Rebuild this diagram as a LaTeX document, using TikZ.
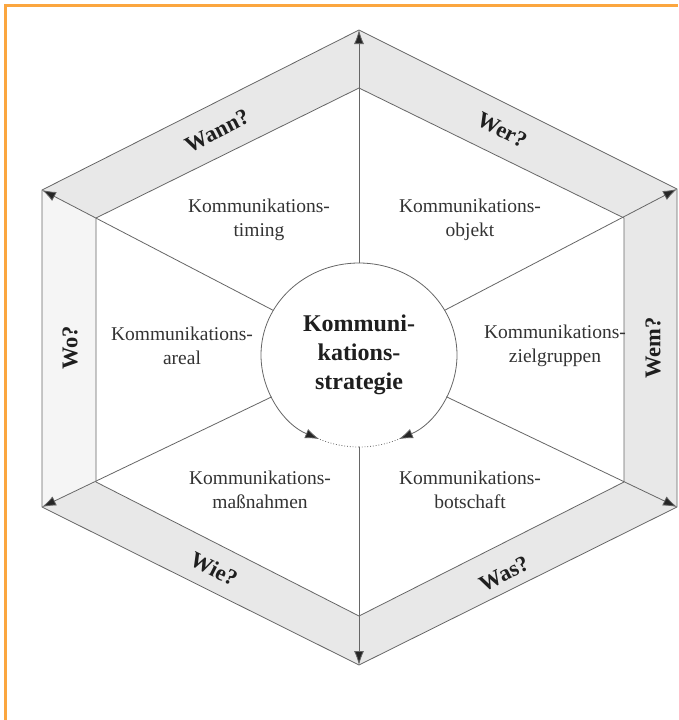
\documentclass[tikz,border=0pt]{standalone}
\usepackage{fontspec}
\setmainfont{Liberation Serif}
\usetikzlibrary{arrows.meta}
\usetikzlibrary{shapes.geometric}
\definecolor{rahmen}{HTML}{FBA63F}

\begin{document}
\begin{tikzpicture}[x=1pt,y=-1pt,
  linie/.style={draw=black!60,line width=0.8pt},
  speiche/.style={linie,-{Latex[length=14pt,width=10pt,fill=black!85]}},
  kreispfeil/.style={linie,-{Latex[length=14pt,width=10pt,fill=black!85]}},
  feld/.style={text=black!80,align=center,font=\fontsize{19.5}{24}\selectfont},
  frage/.style={text=black!88,font=\bfseries\fontsize{22.5}{26}\selectfont}]
\useasboundingbox (0,0) rectangle (678,720);
\draw[rahmen,line width=3pt] (5.5,720) -- (5.5,5.5) -- (678,5.5);

\coordinate (oT) at (359,30);
\coordinate (oUR) at (677,189);
\coordinate (oLR) at (677,507);
\coordinate (oB) at (359,665);
\coordinate (oLL) at (42,507);
\coordinate (oUL) at (42,190);
\coordinate (iT) at (359,88);
\coordinate (iUR) at (624,218);
\coordinate (iLR) at (624,482);
\coordinate (iB) at (359,616);
\coordinate (iLL) at (96,482);
\coordinate (iUL) at (96,218);

\fill[black!9] (oT) -- (oUR) -- (oLR) -- (oB) -- (oLL) -- (oUL) -- cycle;
\fill[white] (iT) -- (iUR) -- (iLR) -- (iB) -- (iLL) -- (iUL) -- cycle;
\fill[black!4] (oUL) -- (iUL) -- (iLL) -- (oLL) -- cycle;
\draw[linie] (oT) -- (oUR) -- (oLR) -- (oB) -- (oLL) -- (oUL) -- cycle;
\draw[linie] (iT) -- (iUR) -- (iLR) -- (iB) -- (iLL) -- (iUL) -- cycle;

\node[ellipse,minimum width=196pt,minimum height=184pt,inner sep=0pt,outer sep=0pt,
  align=center,text=black!88,font=\bfseries\fontsize{24}{29}\selectfont]
  (strat) at (359,355) {Kommuni-\\kations-\\strategie};
\draw[kreispfeil] (strat.north) arc[start angle=90,end angle=246,x radius=98pt,y radius=92pt];
\draw[kreispfeil] (strat.north) arc[start angle=90,end angle=-66,x radius=98pt,y radius=92pt];
\draw[linie,dotted] (strat.south) arc[start angle=270,end angle=246,x radius=98pt,y radius=92pt];
\draw[linie,dotted] (strat.south) arc[start angle=270,end angle=294,x radius=98pt,y radius=92pt];
\foreach \e in {oT,oUR,oLR,oB,oLL,oUL}
  \draw[speiche] (strat) -- (\e);

\node[feld] (timing) at (259,220) {Kommunikations-\\timing};
\node[feld] (objekt) at (470,220) {Kommunikations-\\objekt};
\node[feld] (areal) at (182,346) {Kommunikations-\\areal};
\node[feld] (ziel) at (555,346) {Kommunikations-\\zielgruppen};
\node[feld] (massn) at (260,490) {Kommunikations-\\maßnahmen};
\node[feld] (botsch) at (470,490) {Kommunikations-\\botschaft};

\node[frage,rotate=27] (wann) at (217,131) {Wann?};
\node[frage,rotate=-27] (wer) at (502,130) {Wer?};
\node[frage,rotate=90] (wem) at (653,348) {Wem?};
\node[frage,rotate=90] (wo) at (70,348) {Wo?};
\node[frage,rotate=-27] (wie) at (214,569) {Wie?};
\node[frage,rotate=27] (was) at (504,574) {Was?};
\end{tikzpicture}
\end{document}
